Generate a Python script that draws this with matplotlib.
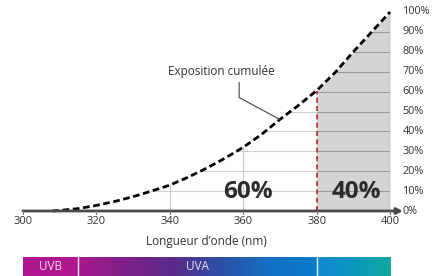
import numpy as np
import matplotlib
matplotlib.use("Agg")
import matplotlib.pyplot as plt
from matplotlib.colors import LinearSegmentedColormap

plt.rcParams['font.family'] = ['Open Sans', 'DejaVu Sans']

# ---- data ----
wavelength = [308, 310, 315, 320, 325, 330, 335, 340, 345, 350, 355, 360, 365, 370, 375, 380, 385, 390, 395, 400]
cumulative = [0, 0.3, 1.2, 2.8, 4.8, 7.2, 10, 13, 17, 21.5, 26.5, 32, 38.5, 46, 53, 60.5, 69.5, 80, 90, 100]
x_ticks = [300, 320, 340, 360, 380, 400]
y_ticks = [0, 10, 20, 30, 40, 50, 60, 70, 80, 90, 100]
y_tick_labels = [f"{v}%" for v in y_ticks]
vgrid = [340, 360]
split = 380
share_labels = ["60%", "40%"]
bands = [("UVB", 300, 315), ("UVA", 315, 380), ("", 380, 400)]
band_colors = [["#b0168f", "#b0168f"],
               ["#a8198c", "#7d2089", "#5a2a8a", "#2d50a8", "#1470c2", "#0a7ccc"],
               ["#1288d4", "#0a98bd", "#12a89c"]]
annot_text = "Exposition cumulée"
xlabel = "Longueur d\u2019onde (nm)"

W, H = 438, 276
fig = plt.figure(figsize=(W / 100, H / 100), dpi=100)
ax = fig.add_axes([23 / W, 65 / H, 367 / W, 199 / H])
ax.set_xlim(300, 400)
ax.set_ylim(0, 100)
ax.axis('off')

wl = np.array(wavelength, float)
cu = np.array(cumulative, float)

# fill on the right
xs = np.linspace(split, 400, 50)
ax.fill_between(xs, 0, np.interp(xs, wl, cu), color='#d4d4d4', lw=0, zorder=1)

# horizontal grid lines from the curve to the right edge
for v in y_ticks[1:-1]:
    xc = np.interp(v, cu, wl)
    if xc < split:
        ax.plot([xc, split], [v, v], color='#d0d0d0', lw=0.8, zorder=2)
    ax.plot([max(xc, split), 400], [v, v], color='#9a9a9a', lw=0.8, zorder=2)

# vertical grid lines
for xv in vgrid:
    ax.plot([xv, xv], [0, np.interp(xv, wl, cu)], color='#c8c8c8', lw=0.8, zorder=2)

# right edge line
ax.plot([400, 400], [0, 100], color='#9a9a9a', lw=1.0, zorder=2)

# red dashed split
ax.plot([split, split], [0, np.interp(split, wl, cu)], color='#b8222a', lw=1.2,
        ls=(0, (3, 2)), zorder=3)

# curve
ax.plot(wl, cu, color='black', lw=2.0, ls=(0, (2.4, 1.3)), zorder=4, clip_on=False,
        dash_capstyle='butt')

# base axis with arrow
ax.annotate('', xy=(403.5, 0), xytext=(300, 0), xycoords='data',
            arrowprops=dict(arrowstyle='-|>,head_length=0.35,head_width=0.18',
                            color='#4a4a4a', lw=2.0, shrinkA=0, shrinkB=0),
            annotation_clip=False, zorder=5)

# x ticks + labels
for t in x_ticks:
    ax.plot([t, t], [0, -1.3], color='#777777', lw=0.8, clip_on=False, zorder=5)
    ax.text(t, -5.5, str(t), ha='center', va='center', fontsize=8, color='#333333')

# y labels on right
for v, lab in zip(y_ticks, y_tick_labels):
    ax.text(403.5, v, lab, ha='left', va='center', fontsize=7.8, color='#333333')

ax.text(350, -15.5, xlabel, ha='center', va='center', fontsize=8.5, color='#333333')

# big shares
ax.text(361.2, 9.3, share_labels[0], ha='center', va='center', fontsize=17.5,
        fontweight='bold', color='#2b2b2b', zorder=6)
ax.text(390.8, 9.3, share_labels[1], ha='center', va='center', fontsize=17.5,
        fontweight='bold', color='#2b2b2b', zorder=6)

# annotation
ax.text(354, 70, annot_text, ha='center', va='center', fontsize=8.5, color='#333333')
ax.plot([358.9, 358.9, 370], [64.5, 57, np.interp(370, wl, cu)], color='#444444',
        lw=0.8, zorder=5)

# colour band
bax = fig.add_axes([23 / W, 0, 367 / W, 19 / H])
bax.set_xlim(300, 400)
bax.set_ylim(0, 1)
bax.axis('off')
for (name, a, b), cols in zip(bands, band_colors):
    cmap = LinearSegmentedColormap.from_list(name or 'vis', cols)
    grad = np.linspace(0, 1, 256)[None, :]
    bax.imshow(grad, cmap=cmap, extent=(a, b, 0, 1), aspect='auto')
    if name:
        bax.text((a + b) / 2, 0.5, name, ha='center', va='center', fontsize=8.5,
                 color='white', alpha=0.85)
for a in [315, 380]:
    bax.plot([a, a], [0, 1], color='white', lw=1.0, alpha=0.9)
bax.set_xlim(300, 400)
bax.set_ylim(0, 1)

fig.savefig('out.png', dpi=100)
